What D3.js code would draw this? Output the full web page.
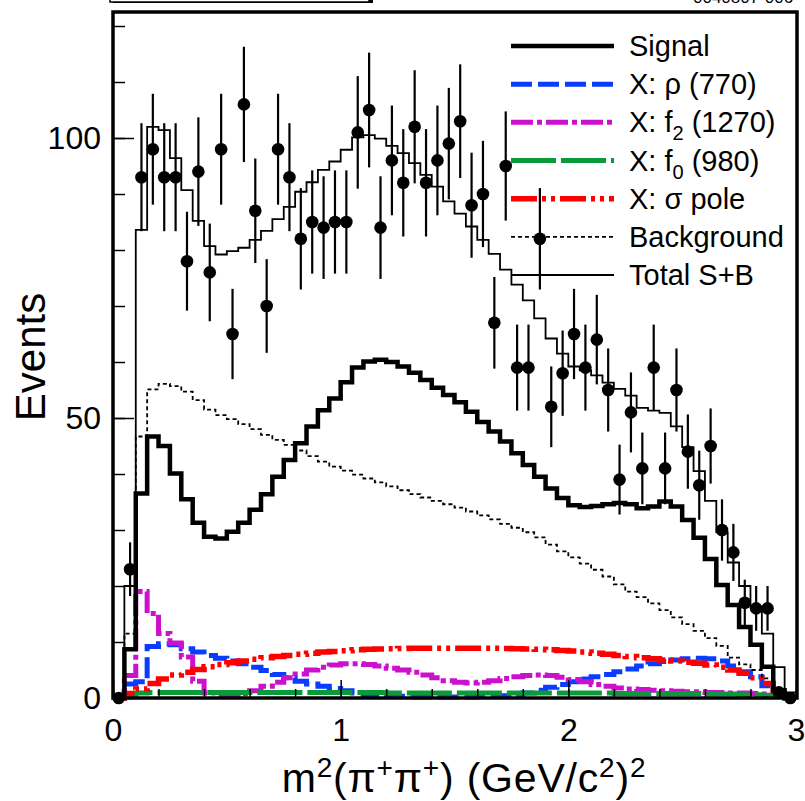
<!DOCTYPE html>
<html><head><meta charset="utf-8">
<script src="https://cdn.jsdelivr.net/npm/d3@7"></script>
<style>
body{margin:0;background:#fff}
svg{display:block}
text{font-family:"Liberation Sans",Arial,Helvetica,sans-serif;fill:#000}
</style>
</head><body>
<svg id="c" width="805" height="801"></svg>
<script>
// ---- binning ----
const nBins = 60, xMin = 0, xMax = 3;
const yMax = 122.5;
const xTicks = [0, 1, 2, 3];
const xMinorTicks = d3.range(0, 3.0001, 0.2);
const yTicks = [0, 50, 100];
const yMinorTicks = d3.range(0, 121, 10);

// ---- data (events per bin) ----
const dataCounts = [0,23,93,98,93,93,78,94,76,98,65,106,87,70,98,93,82,85,84,85,
  85,101,105,84,96,92,102,92,96,99,103,88,90,67,95,59,59,82,52,58,
  65,59,64,55,39,51,41,59,41,55,44,38,45,30,26,17,16,16,1,0];

const signal = [0,8.7,36.5,46.7,45,40.1,35.5,31.3,28.8,28.5,29.7,31.3,33.6,36.4,39.5,42.5,45.5,48.5,51.4,53.5,
  56.4,59,60.1,60.4,60,59.2,58.1,56.8,55.4,54.1,52.8,51.1,49.3,47.6,45.8,43.7,41.6,39.5,37.4,35.7,
  34.4,34.1,34.3,34.6,34.8,34.6,33.9,34.2,35.1,34.2,31.8,28.6,24.8,20.2,16.6,12.7,9.5,5.6,1.4,0];

const background = [0,11.5,46.7,55.1,56.1,55.7,54.7,53.2,51.5,50.5,49.8,48.9,48.0,47.0,46.1,45.2,44.2,43.2,42.2,41.3,
  40.6,39.9,39.2,38.5,37.8,37.1,36.4,35.8,35.2,34.6,34.0,33.3,32.6,31.9,31.1,30.4,29.6,28.7,27.4,26.2,
  25.1,24.0,22.9,21.7,20.3,19.0,18.0,16.9,15.7,14.4,13.2,12.0,10.7,9.3,7.2,6.0,5.0,3.5,1.6,0];

const totalSB = [0,20,83.6,102,101.4,96.4,90.7,85.2,80.7,79.2,79.8,80.4,81.8,83.4,85.5,87.7,90.4,92.1,94.3,95.8,
  97.9,100.1,100.5,99.9,98.6,97.3,95.5,93.4,91.3,88.7,86.5,84.2,81.8,79.3,76.5,73.8,71.0,67.8,64.2,61.5,
  59.2,58.5,57.6,56.3,55.2,54.0,51.8,51.3,50.9,48.5,44.8,40.5,35.2,29.6,24.2,20.0,16.2,11.5,5.5,1.0];

const rho770 = [0,2.5,2.9,9.2,9.7,9.5,8.8,8.2,7.6,7.1,6.6,6.1,5.5,4.9,4.2,3.6,3.0,2.5,2.1,1.7,
  1.3,0.9,0.6,0.5,0.4,0.3,0.2,0.2,0.2,0.2,0.2,0.2,0.3,0.3,0.4,0.6,0.9,1.4,1.9,2.4,
  2.9,3.4,3.8,4.2,4.7,5.2,5.7,6.1,6.5,6.8,7.0,7.1,7.0,6.6,5.7,4.7,3.8,2.2,0.8,0];

const f2_1270 = [0,4,19,15.1,11.5,9.8,7.3,3,0.9,0.6,0.5,0.7,1.3,2.1,2.8,3.6,4.3,5,5.5,5.9,
  6.1,6.1,6.0,5.7,5.3,5.0,4.6,4.1,3.6,3.1,2.8,2.7,2.8,3.1,3.5,3.8,4.0,4.1,4.0,3.7,
  3.3,2.9,2.4,2.1,1.8,1.6,1.5,1.4,1.3,1.2,1.1,1.1,1.0,1.0,0.9,0.9,0.8,0.7,0.4,0];

const f0_980 = [0,0.3,0.9,1.0,1.0,1.0,1.0,1.0,1.0,1.0,1.0,1.0,1.0,1.0,1.0,1.0,1.0,1.0,1.0,1.0,
  1.0,1.0,1.0,1.0,0.9,0.9,0.9,0.9,0.9,0.9,0.9,0.9,0.9,0.9,0.9,0.9,0.9,0.9,0.9,0.9,
  0.9,0.9,0.9,0.9,0.8,0.8,0.8,0.8,0.8,0.8,0.8,0.8,0.7,0.7,0.7,0.6,0.6,0.5,0.3,0];

const sigmaPole = [0,0.8,1.6,2.6,3.4,4.1,4.6,5.1,5.6,6.0,6.3,6.6,6.9,7.2,7.4,7.6,7.8,8.0,8.2,8.3,
  8.45,8.6,8.7,8.75,8.8,8.85,8.9,8.9,8.9,8.9,8.9,8.9,8.9,8.9,8.85,8.8,8.75,8.7,8.6,8.5,
  8.4,8.2,8.0,7.8,7.6,7.4,7.2,7.0,6.8,6.6,6.4,6.2,5.9,5.5,5.0,4.4,3.6,2.6,1.2,0];

const legendLabels = ["Signal", "X: ρ (770)", "X: f2 (1270)", "X: f0 (980)", "X: σ pole", "Background", "Total S+B"];

// ---- layout ----
const svg = d3.select("#c");
const L = 113, R = 796, T = 12, B = 698;
const x = d3.scaleLinear().domain([xMin, xMax]).range([L, R]);
const y = d3.scaleLinear().domain([0, yMax]).range([B, T]);
const binW = (xMax - xMin) / nBins;
const edges = d3.range(nBins + 1).map(i => xMin + i * binW);
const centers = d3.range(nBins).map(i => xMin + (i + 0.5) * binW);

function stepPath(vals) {
  const pts = vals.map((v, i) => [edges[i], v]);
  pts.push([edges[nBins], vals[nBins - 1]]);
  return d3.line().x(d => x(d[0])).y(d => y(d[1])).curve(d3.curveStepAfter)(pts);
}

// header fragments (cut off at top, as in the source figure)
svg.append("rect").attr("x", 113).attr("y", -4).attr("width", 260).attr("height", 7)
  .attr("fill", "#000");
svg.append("rect").attr("x", 110).attr("y", -10).attr("width", 259).attr("height", 12)
  .attr("fill", "#fff").attr("stroke", "#000").attr("stroke-width", 1.5);
svg.append("text").attr("x", 693).attr("y", 3).attr("font-size", 17).text("0040807-006");

// styles
const styles = {
  signal: {stroke: "#000", w: 4.5, dash: null},
  rho: {stroke: "#0a3cff", w: 5, dash: "21,6"},
  f2: {stroke: "#cc11cc", w: 5, dash: "22,4,5,4"},
  f0: {stroke: "#0a9a3a", w: 5, dash: "45,5"},
  sigma: {stroke: "#ff0000", w: 5.5, dash: "26,5,4,5,4,5"},
  bkg: {stroke: "#000", w: 1.8, dash: "4,3"},
  total: {stroke: "#000", w: 1.8, dash: null}
};

const series = [
  [rho770, styles.rho],
  [f2_1270, styles.f2],
  [f0_980, styles.f0],
  [sigmaPole, styles.sigma],
  [background, styles.bkg],
  [signal, styles.signal],
  [totalSB, styles.total]
];
series.forEach(([vals, st]) => {
  svg.append("path").attr("d", stepPath(vals)).attr("fill", "none")
    .attr("stroke", st.stroke).attr("stroke-width", st.w)
    .attr("stroke-dasharray", st.dash).attr("stroke-linejoin", "miter");
});

// axes
const fontTick = 32;
const yMinor = svg.append("g").attr("transform", `translate(${L},0)`)
  .call(d3.axisLeft(y).tickValues(yMinorTicks).tickSize(-12).tickFormat(""));
const yMajor = svg.append("g").attr("transform", `translate(${L},0)`)
  .call(d3.axisLeft(y).tickValues(yTicks).tickSize(-21).tickPadding(12).tickFormat(d3.format("d")));
const xMinor = svg.append("g").attr("transform", `translate(0,${B})`)
  .call(d3.axisBottom(x).tickValues(xMinorTicks).tickSize(-9).tickFormat(""));
const xMajor = svg.append("g").attr("transform", `translate(0,${B})`)
  .call(d3.axisBottom(x).tickValues(xTicks).tickSize(-18).tickPadding(20).tickFormat(d3.format("d")));
[yMinor, yMajor, xMinor, xMajor].forEach(g => {
  g.select(".domain").remove();
  g.selectAll(".tick line").attr("stroke", "#000").attr("stroke-width", 1.5);
  g.selectAll(".tick text").attr("font-size", fontTick)
    .attr("font-family", '"Liberation Sans",Arial,sans-serif').attr("fill", "#000");
});

// frame
svg.append("rect").attr("x", L).attr("y", T).attr("width", R - L + 1).attr("height", B - T)
  .attr("fill", "none").attr("stroke", "#000").attr("stroke-width", 3.5);

// axis titles
const xt = svg.append("text").attr("x", 464).attr("y", 792).attr("text-anchor", "middle")
  .attr("font-size", 41).attr("letter-spacing", 0.8);
const sup = (txt) => xt.append("tspan").attr("font-size", 28).attr("dy", -15).text(txt);
const base = (txt) => xt.append("tspan").attr("dy", 15).text(txt);
xt.append("tspan").text("m");
sup("2"); base("(π"); sup("+"); base("π"); sup("+"); base(") (GeV/c"); sup("2"); base(")"); sup("2");

svg.append("text").attr("transform", "translate(45,357) rotate(-90)")
  .attr("text-anchor", "middle").attr("font-size", 42).text("Events");

// legend
const legStyles = [styles.signal, styles.rho, styles.f2, styles.f0, styles.sigma, styles.bkg, styles.total];
const legY = d3.scalePoint().domain(d3.range(legendLabels.length)).range([46, 275]);
legendLabels.forEach((lab, i) => {
  const st = legStyles[i];
  const yy = legY(i);
  svg.append("line").attr("x1", 511).attr("x2", 614).attr("y1", yy).attr("y2", yy)
    .attr("stroke", st.stroke).attr("stroke-width", st.w).attr("stroke-dasharray", st.dash);
  const t = svg.append("text").attr("x", 629).attr("y", yy + 10).attr("font-size", 29);
  const m = lab.match(/^X: f(\d) (.*)$/);
  if (m) {
    t.append("tspan").text("X: f");
    t.append("tspan").attr("font-size", 20).attr("dy", 8).text(m[1]);
    t.append("tspan").attr("dy", -8).text(" " + m[2]);
  } else {
    t.text(lab);
  }
});

// data points with sqrt(N) error bars
const pts = svg.append("g");
dataCounts.forEach((n, i) => {
  const cx = x(centers[i]);
  const e = Math.sqrt(n);
  if (n > 0) {
    pts.append("line").attr("x1", cx).attr("x2", cx).attr("y1", y(n - e)).attr("y2", y(n + e))
      .attr("stroke", "#000").attr("stroke-width", 2.2);
  }
  pts.append("circle").attr("cx", cx).attr("cy", y(n)).attr("r", 6.3).attr("fill", "#000");
});
</script>
</body></html>
